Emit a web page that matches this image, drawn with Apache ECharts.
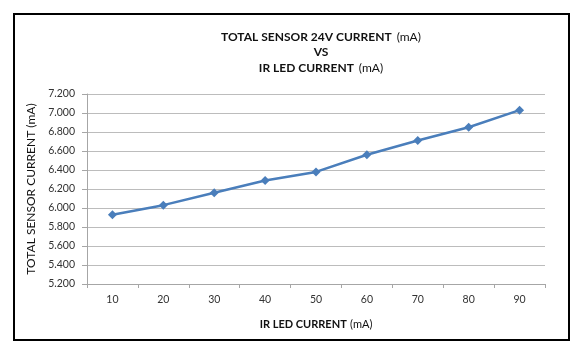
<!DOCTYPE html>
<html>
<head>
<meta charset="utf-8">
<script src="https://cdn.jsdelivr.net/npm/echarts@6/dist/echarts.min.js"></script>
<style>
html,body{margin:0;padding:0;background:#fff;}
#c{width:582px;height:357px;}
</style>
</head>
<body>
<div id="c"></div>
<script>
const categories = ['10','20','30','40','50','60','70','80','90'];
const sensorCurrent = [5.93, 6.03, 6.16, 6.29, 6.38, 6.56, 6.71, 6.85, 7.03];
const yMin = 5.2, yMax = 7.2, yStep = 0.2;

const chart = echarts.init(document.getElementById('c'), null, {renderer:'canvas'});
const font = 'Lato, "Open Sans", "DejaVu Sans", sans-serif';
chart.setOption({
  backgroundColor:'#fff',
  animation:false,
  graphic:[{
    type:'rect', left:13, top:13, z:-1,
    shape:{width:555, height:326},
    style:{fill:'#fff', stroke:'#000', lineWidth:2}
  }],
  title:{
    text:'{b|TOTAL SENSOR 24V CURRENT} {r|(mA)}\n{b|VS}\n{b|IR LED CURRENT} {r|(mA)}',
    left:316, top:24, textAlign:'center',
    textStyle:{
      lineHeight:15.5,
      rich:{
        b:{fontFamily:font, fontWeight:'bold', fontSize:12, color:'#111', lineHeight:15.5},
        r:{fontFamily:font, fontWeight:'normal', fontSize:12, color:'#111', lineHeight:15.5}
      }
    }
  },
  grid:{left:87, right:37, top:94, bottom:73, containLabel:false},
  xAxis:{
    type:'category', data:categories, boundaryGap:true,
    name:'{b|IR LED CURRENT} {r|(mA)}', nameLocation:'middle', nameGap:34,
    nameTextStyle:{rich:{
      b:{fontFamily:font, fontWeight:'bold', fontSize:11, color:'#111'},
      r:{fontFamily:font, fontSize:11, color:'#111'}
    }},
    axisLine:{lineStyle:{color:'#a6a6a6', width:1}},
    axisTick:{show:true, length:4, alignWithLabel:false, lineStyle:{color:'#a6a6a6'}},
    axisLabel:{fontFamily:font, fontSize:10.5, color:'#333', margin:10},
    splitLine:{show:false}
  },
  yAxis:{
    type:'value', min:yMin, max:yMax, interval:yStep,
    name:'TOTAL SENSOR CURRENT (mA)', nameLocation:'middle', nameGap:43,
    nameTextStyle:{fontFamily:font, fontSize:12, color:'#111'},
    axisLine:{show:true, lineStyle:{color:'#a6a6a6', width:1}},
    axisTick:{show:true, length:5, inside:false, lineStyle:{color:'#a6a6a6'}},
    axisLabel:{fontFamily:font, fontSize:10.5, color:'#333', margin:12,
      formatter:v=>v.toFixed(3)},
    splitLine:{show:true, lineStyle:{color:'#bcbcbc', width:1}}
  },
  series:[{
    type:'line', data:sensorCurrent,
    lineStyle:{color:'#4a7ebb', width:2.5},
    itemStyle:{color:'#4a7ebb'},
    symbol:'diamond', symbolSize:9, showSymbol:true
  }]
});
</script>
</body>
</html>
